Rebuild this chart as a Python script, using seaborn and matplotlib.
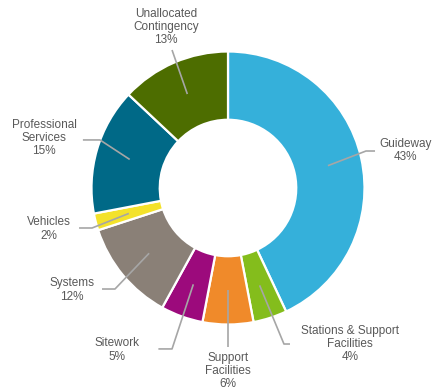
import numpy as np
import matplotlib
matplotlib.use("Agg")
import matplotlib.pyplot as plt
import seaborn as sns

# Capital cost breakdown by category (percent of total)
categories = [
    "Guideway",
    "Stations & Support\nFacilities",
    "Support\nFacilities",
    "Sitework",
    "Systems",
    "Vehicles",
    "Professional\nServices",
    "Unallocated\nContingency",
]
shares = [43, 4, 6, 5, 12, 2, 15, 13]
colors = ["#35b0da", "#84bd1c", "#f08a2a", "#9c0a7c",
          "#8a8077", "#f3e22b", "#006987", "#4d6d00"]

sns.set_theme(style="white")
plt.rcParams["font.family"] = ["Liberation Sans", "DejaVu Sans"]

fig = plt.figure(figsize=(4.35, 3.89), dpi=100)
ax = fig.add_axes([0, 0, 1, 1])

wedges, _ = ax.pie(
    shares,
    colors=colors,
    startangle=90,
    counterclock=False,
    radius=1.0,
    wedgeprops=dict(width=0.5, edgecolor="white", linewidth=1.6),
)

# Label placement: text centre, leader knee, horizontal tail length
layout = [
    ((1.30, 0.275), (1.011, 0.271), 0.066),
    ((0.894, -1.143), (0.410, -1.143), 0.044),
    ((0.0, -1.341), (0.0, -1.165), 0.0),
    ((-0.813, -1.187), (-0.410, -1.179), -0.10),
    ((-1.143, -0.747), (-0.828, -0.740), -0.095),
    ((-1.311, -0.300), (-0.996, -0.293), -0.095),
    ((-1.348, 0.366), (-0.938, 0.352), -0.125),
    ((-0.454, 1.179), (-0.410, 1.011), 0.0),
]

line_color = "#a6a6a6"
text_color = "#595959"
for w, name, val, (txy, knee, tail) in zip(wedges, categories, shares, layout):
    mid = np.deg2rad((w.theta1 + w.theta2) / 2.0)
    sx, sy = 0.75 * np.cos(mid), 0.75 * np.sin(mid)
    xs = [sx, knee[0], knee[0] + tail]
    ys = [sy, knee[1], knee[1]]
    ax.plot(xs, ys, color=line_color, lw=1.2, solid_capstyle="butt", zorder=3)
    ax.text(txy[0], txy[1], f"{name}\n{val}%", ha="center", va="center",
            fontsize=8.5, color=text_color, linespacing=1.15)

ax.set_xlim(-228 / 136.5, 207 / 136.5)
ax.set_ylim(-201 / 136.5, 188 / 136.5)
ax.set_aspect("equal")
ax.axis("off")

fig.savefig("out.png", dpi=100, facecolor="white")
